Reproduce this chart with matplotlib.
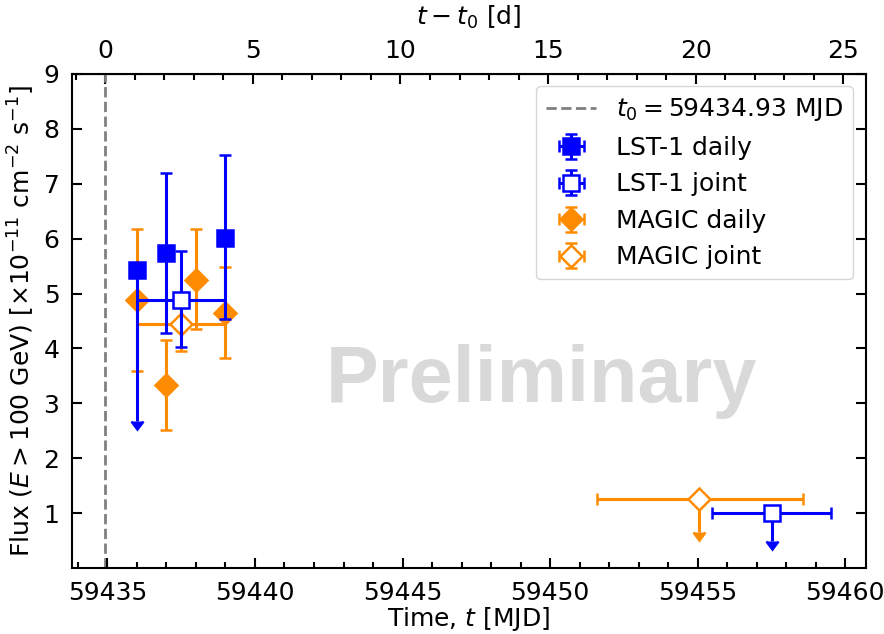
import numpy as np
import matplotlib
matplotlib.use("Agg")
import matplotlib.pyplot as plt
from matplotlib.ticker import MultipleLocator, FixedLocator

plt.rcParams['font.family'] = ['DejaVu Sans']
plt.rcParams['mathtext.fontset'] = 'dejavusans'

t0 = 59434.93

# LST-1 daily
lst_daily_t = [59436.0, 59437.0, 59439.0]
lst_daily_f = [5.42, 5.73, 6.02]
lst_daily_lo = [2.75, 1.44, 1.49]
lst_daily_hi = [0.0, 1.47, 1.51]
lst_daily_ul = [True, False, False]

# LST-1 joint
lst_joint_t = [59437.5, 59457.5]
lst_joint_f = [4.89, 1.0]
lst_joint_lo = [0.87, 0.5]
lst_joint_hi = [0.89, 0.0]
lst_joint_xlo = [1.5, 2.0]
lst_joint_xhi = [1.5, 2.0]
lst_joint_ul = [False, True]

# MAGIC daily
magic_daily_t = [59436.0, 59437.0, 59438.0, 59439.0]
magic_daily_f = [4.89, 3.33, 5.25, 4.65]
magic_daily_lo = [1.31, 0.82, 0.89, 0.83]
magic_daily_hi = [1.29, 0.82, 0.93, 0.84]

# MAGIC joint
magic_joint_t = [59437.5, 59455.05]
magic_joint_f = [4.45, 1.25]
magic_joint_lo = [0.5, 0.6]
magic_joint_hi = [0.5, 0.0]
magic_joint_xlo = [1.5, 3.45]
magic_joint_xhi = [1.5, 3.5]
magic_joint_ul = [False, True]

top_ticks = [0, 5, 10, 15, 20, 25]

FS = 18
blue = '#0000ff'
orange = '#ff8c00'

fig = plt.figure(figsize=(8.84, 6.34), dpi=100)
ax = fig.add_axes([0.0814, 0.1041, 0.8982, 0.7792])

eb_kw = dict(ls='none', elinewidth=2.2, capsize=4, capthick=2, ms=11, mew=1.8)

vl = ax.axvline(t0, color='gray', ls='--', lw=2, label=r'$t_0 = 59434.93$ MJD', zorder=1)

h1 = ax.errorbar(lst_daily_t, lst_daily_f, yerr=[lst_daily_lo, lst_daily_hi], xerr=0.1,
                 uplims=lst_daily_ul, fmt='s', color=blue, mfc=blue, mec=blue,
                 label='LST-1 daily', zorder=4, **eb_kw)
h2 = ax.errorbar(lst_joint_t, lst_joint_f, yerr=[lst_joint_lo, lst_joint_hi],
                 xerr=[lst_joint_xlo, lst_joint_xhi], uplims=lst_joint_ul, fmt='s',
                 color=blue, mfc='white', mec=blue, label='LST-1 joint', zorder=4, **eb_kw)
h3 = ax.errorbar(magic_daily_t, magic_daily_f, yerr=[magic_daily_lo, magic_daily_hi], xerr=0.1,
                 fmt='D', color=orange, mfc=orange, mec=orange, label='MAGIC daily',
                 zorder=3, **eb_kw)
h4 = ax.errorbar(magic_joint_t, magic_joint_f, yerr=[magic_joint_lo, magic_joint_hi],
                 xerr=[magic_joint_xlo, magic_joint_xhi], uplims=magic_joint_ul, fmt='D',
                 color=orange, mfc='white', mec=orange, label='MAGIC joint', zorder=2, **eb_kw)

ax.set_xlim(59433.8, 59460.7)
ax.set_ylim(0.0, 9.0)
ax.set_yticks(np.arange(1, 10))
ax.xaxis.set_major_locator(MultipleLocator(5))
ax.xaxis.set_minor_locator(MultipleLocator(1))
ax.tick_params(axis='both', which='both', direction='in', labelsize=FS, width=1.5, right=True)
ax.tick_params(which='major', length=7, pad=9)
ax.tick_params(which='minor', length=4)
ax.get_xaxis().get_major_formatter().set_useOffset(False)
for s in ax.spines.values():
    s.set_linewidth(1.5)

ax.set_xlabel(r'Time, $t$ [MJD]', fontsize=FS, labelpad=0)
ax.set_ylabel(r'Flux ($E > 100$ GeV) [$\times 10^{-11}$ cm$^{-2}$ s$^{-1}$]', fontsize=FS, labelpad=5)

sec = ax.secondary_xaxis('top', functions=(lambda x: x - t0, lambda d: d + t0))
sec.xaxis.set_major_locator(FixedLocator(top_ticks))
sec.xaxis.set_minor_locator(MultipleLocator(1))
sec.tick_params(axis='x', which='both', direction='in', labelsize=FS, width=1.5)
sec.tick_params(which='major', length=7, pad=8)
sec.tick_params(which='minor', length=4)
sec.set_xlabel(r'$t - t_0$ [d]', fontsize=FS, labelpad=10)

ax.text(0.591, 0.336, 'Preliminary', transform=ax.transAxes, ha='center', va='baseline',
        fontsize=57, fontweight='bold', family='Liberation Sans', color='#d9d9d9', zorder=0)

ax.legend(handles=[vl, h1, h2, h3, h4], loc='upper right', fontsize=FS)

fig.savefig('out.png', dpi=100)
